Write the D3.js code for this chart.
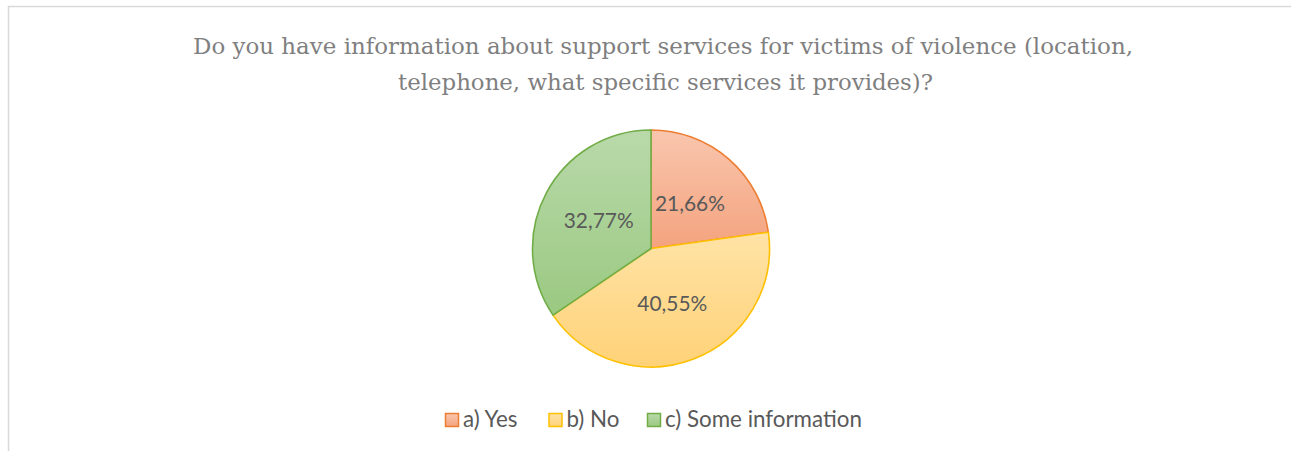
<!DOCTYPE html>
<html><head><meta charset="utf-8">
<script src="https://cdn.jsdelivr.net/npm/d3@7"></script>
<style>html,body{margin:0;padding:0;background:#fff;overflow:hidden}</style>
</head><body>
<svg id="chart" width="1291" height="451"></svg>
<script>
const titleLines = ["Do you have information about support services for victims of violence (location,",
                    "telephone, what specific services it provides)?"];
const categories = ["a) Yes", "b) No", "c) Some information"];
const values = [21.66, 40.55, 32.77];
const labels = ["21,66%", "40,55%", "32,77%"];
const strokeColors = ["#ED7D31", "#FFC000", "#70AD47"];
const lightColors = ["#F9C6AE", "#FFE3A6", "#B9D9AA"];
const darkColors = ["#F4A37E", "#FFD278", "#9AC981"];

const svg = d3.select("#chart");
// frame
svg.append("path").attr("d", "M8.5,460V6.5H1300").attr("fill", "none")
  .attr("stroke", "#D9D9D9").attr("stroke-width", 1.5);

// title
const titleFont = "'DejaVu Serif', serif";
const titleSize = 22;
const titleSpec = [{x: 663, y: 54, w: 940}, {x: 665.5, y: 90, w: 535}];
titleLines.forEach((line, i) => {
  const t = svg.append("text").attr("x", titleSpec[i].x).attr("y", titleSpec[i].y)
    .attr("text-anchor", "middle").attr("font-family", titleFont).attr("fill", "#7F7F7F")
    .attr("font-size", titleSize).text(line);
  const w = t.node().getComputedTextLength();
  if (Math.abs(w - titleSpec[i].w) > 2) {
    t.attr("textLength", titleSpec[i].w).attr("lengthAdjust", "spacingAndGlyphs");
  }
});

// gradients
const defs = svg.append("defs");
categories.forEach((c, i) => {
  const g = defs.append("linearGradient").attr("id", "g" + i)
    .attr("x1", 0).attr("y1", 0).attr("x2", 0).attr("y2", 1);
  g.append("stop").attr("offset", "0%").attr("stop-color", lightColors[i]);
  g.append("stop").attr("offset", "100%").attr("stop-color", darkColors[i]);
});

// pie
const cx = 651, cy = 248.5, r = 118.5;
const pie = d3.pie().sort(null).value(d => d);
const arcs = pie(values);
const arc = d3.arc().innerRadius(0).outerRadius(r);
const g = svg.append("g").attr("transform", `translate(${cx},${cy})`);
g.selectAll("path.slice").data(arcs).enter().append("path").attr("class", "slice")
  .attr("d", arc).attr("fill", (d, i) => `url(#g${i})`)
  .attr("stroke", (d, i) => strokeColors[i]).attr("stroke-width", 1.6)
  .attr("stroke-linejoin", "round");

// labels
const labelFont = "Lato, 'Open Sans', sans-serif";
const tmp = svg.append("text").attr("font-family", labelFont).attr("font-size", 20).text(labels[0]);
const lw = tmp.node().getComputedTextLength(); tmp.remove();
const labelSize = 20 * 70 / lw;
g.selectAll("text.lbl").data(arcs).enter().append("text").attr("class", "lbl")
  .attr("x", d => arc.centroid(d)[0])
  .attr("y", d => arc.centroid(d)[1] + labelSize * 0.36)
  .attr("text-anchor", "middle").attr("font-family", labelFont).attr("font-size", labelSize)
  .attr("fill", "#595959").text((d, i) => labels[i]);

// legend
const legendX = [445, 548.5, 647];
const tmp2 = svg.append("text").attr("font-family", labelFont).attr("font-size", 20).text(categories[2]);
const lw2 = tmp2.node().getComputedTextLength(); tmp2.remove();
const legendSize = 20 * 197 / lw2;
const lg = svg.append("g");
categories.forEach((c, i) => {
  lg.append("rect").attr("x", legendX[i] + 0.5).attr("y", 413.5).attr("width", 13).attr("height", 13)
    .attr("fill", `url(#g${i})`).attr("stroke", strokeColors[i]).attr("stroke-width", 1.5);
  lg.append("text").attr("x", legendX[i] + 18).attr("y", 427)
    .attr("font-family", labelFont).attr("font-size", legendSize).attr("fill", "#595959").text(c);
});
</script>
</body></html>
